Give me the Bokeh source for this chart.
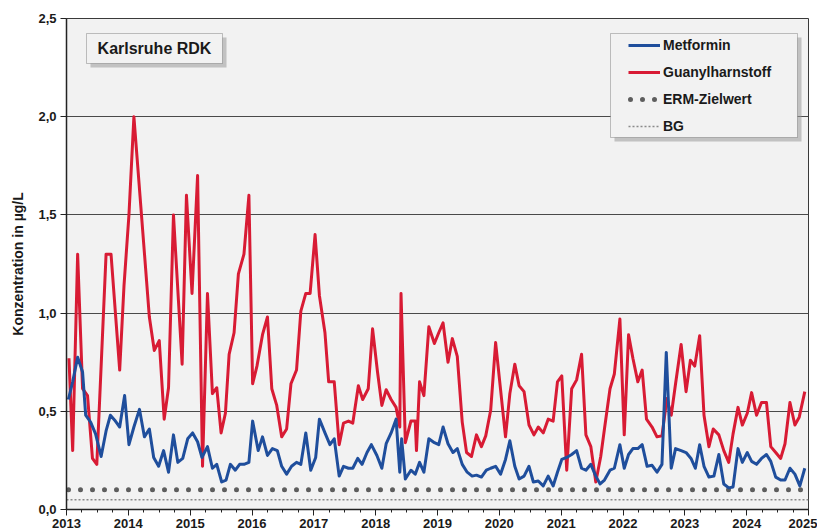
from bokeh.plotting import figure
from bokeh.models import (FixedTicker, CustomJSTickFormatter, Range1d, BoxAnnotation,
                          Label, Legend, LegendItem)
from bokeh.embed import file_html
from bokeh.resources import INLINE

# ---------------- data (decimal years, µg/L) ----------------
metformin_t = [2013.03, 2013.10, 2013.18, 2013.26, 2013.31, 2013.39, 2013.47, 2013.56, 2013.64, 2013.71,
               2013.78, 2013.86, 2013.94, 2014.01, 2014.09, 2014.18, 2014.26, 2014.34, 2014.41, 2014.49,
               2014.57, 2014.65, 2014.73, 2014.80, 2014.88, 2014.96, 2015.04, 2015.12, 2015.19, 2015.28,
               2015.36, 2015.43, 2015.51, 2015.58, 2015.65, 2015.73, 2015.80, 2015.87, 2015.95, 2016.01,
               2016.10, 2016.17, 2016.25, 2016.33, 2016.41, 2016.48, 2016.56, 2016.64, 2016.72, 2016.79,
               2016.87, 2016.95, 2017.03, 2017.09, 2017.18, 2017.26, 2017.33, 2017.41, 2017.48, 2017.56,
               2017.63, 2017.71, 2017.78, 2017.86, 2017.93, 2018.02, 2018.10, 2018.17, 2018.25, 2018.33,
               2018.39, 2018.42, 2018.48, 2018.57, 2018.64, 2018.71, 2018.78, 2018.86, 2018.95, 2019.02,
               2019.09, 2019.17, 2019.25, 2019.32, 2019.40, 2019.48, 2019.56, 2019.63, 2019.71, 2019.79,
               2019.86, 2019.94, 2020.02, 2020.10, 2020.17, 2020.25, 2020.32, 2020.40, 2020.48, 2020.55,
               2020.63, 2020.71, 2020.79, 2020.87, 2020.94, 2021.01, 2021.09, 2021.17, 2021.25, 2021.33,
               2021.40, 2021.48, 2021.56, 2021.63, 2021.70, 2021.79, 2021.86, 2021.95, 2022.02, 2022.09,
               2022.16, 2022.24, 2022.31, 2022.39, 2022.47, 2022.55, 2022.63, 2022.70, 2022.78, 2022.85,
               2022.94, 2023.02, 2023.10, 2023.17, 2023.24, 2023.31, 2023.39, 2023.47, 2023.55, 2023.63,
               2023.71, 2023.78, 2023.86, 2023.93, 2024.01, 2024.08, 2024.16, 2024.24, 2024.32, 2024.39,
               2024.47, 2024.55, 2024.62, 2024.70, 2024.78, 2024.86, 2024.94]
metformin_v = [0.56, 0.65, 0.775, 0.70, 0.48, 0.445, 0.385, 0.27, 0.40, 0.48,
               0.455, 0.42, 0.58, 0.33, 0.42, 0.51, 0.37, 0.41, 0.265, 0.22,
               0.30, 0.19, 0.38, 0.24, 0.26, 0.36, 0.39, 0.345, 0.265, 0.32,
               0.21, 0.23, 0.14, 0.15, 0.23, 0.20, 0.23, 0.23, 0.24, 0.45,
               0.30, 0.37, 0.275, 0.31, 0.30, 0.22, 0.18, 0.22, 0.24, 0.23,
               0.39, 0.20, 0.265, 0.46, 0.39, 0.33, 0.36, 0.17, 0.22, 0.21,
               0.21, 0.26, 0.23, 0.29, 0.33, 0.275, 0.21, 0.335, 0.39, 0.46,
               0.19, 0.36, 0.155, 0.20, 0.18, 0.24, 0.19, 0.36, 0.34, 0.33,
               0.42, 0.335, 0.29, 0.31, 0.23, 0.19, 0.17, 0.175, 0.165, 0.20,
               0.21, 0.22, 0.18, 0.255, 0.35, 0.22, 0.155, 0.17, 0.22, 0.14,
               0.145, 0.12, 0.17, 0.12, 0.19, 0.255, 0.265, 0.28, 0.30, 0.21,
               0.20, 0.23, 0.17, 0.13, 0.15, 0.20, 0.21, 0.33, 0.21, 0.28,
               0.31, 0.31, 0.33, 0.22, 0.225, 0.19, 0.23, 0.80, 0.21, 0.31,
               0.30, 0.29, 0.26, 0.21, 0.33, 0.22, 0.165, 0.17, 0.28, 0.13,
               0.11, 0.115, 0.31, 0.24, 0.29, 0.245, 0.23, 0.26, 0.28, 0.245,
               0.165, 0.15, 0.15, 0.21, 0.18, 0.12, 0.21]

guanyl_t = [2013.04, 2013.10, 2013.18, 2013.26, 2013.34, 2013.42, 2013.49, 2013.64, 2013.72, 2013.86,
            2013.93, 2014.01, 2014.09, 2014.34, 2014.42, 2014.50, 2014.58, 2014.65, 2014.73, 2014.87,
            2014.94, 2015.03, 2015.12, 2015.20, 2015.28, 2015.36, 2015.43, 2015.50, 2015.57, 2015.63,
            2015.71, 2015.78, 2015.87, 2015.95, 2016.01, 2016.08, 2016.17, 2016.25, 2016.32, 2016.40,
            2016.48, 2016.56, 2016.63, 2016.72, 2016.79, 2016.87, 2016.94, 2017.02, 2017.09, 2017.18,
            2017.24, 2017.33, 2017.41, 2017.48, 2017.56, 2017.63, 2017.72, 2017.79, 2017.88, 2017.95,
            2018.03, 2018.10, 2018.17, 2018.25, 2018.33, 2018.39, 2018.41, 2018.48, 2018.57, 2018.64,
            2018.66, 2018.71, 2018.78, 2018.86, 2018.95, 2019.02, 2019.09, 2019.17, 2019.24, 2019.32,
            2019.40, 2019.47, 2019.55, 2019.63, 2019.71, 2019.78, 2019.86, 2019.94, 2020.02, 2020.10,
            2020.17, 2020.25, 2020.32, 2020.40, 2020.48, 2020.56, 2020.63, 2020.71, 2020.79, 2020.87,
            2020.94, 2021.01, 2021.09, 2021.17, 2021.25, 2021.33, 2021.40, 2021.48, 2021.56, 2021.64,
            2021.70, 2021.79, 2021.86, 2021.95, 2022.02, 2022.09, 2022.16, 2022.24, 2022.31, 2022.38,
            2022.47, 2022.55, 2022.63, 2022.71, 2022.78, 2022.85, 2022.94, 2023.02, 2023.09, 2023.16,
            2023.24, 2023.31, 2023.39, 2023.46, 2023.55, 2023.63, 2023.71, 2023.78, 2023.86, 2023.93,
            2024.01, 2024.08, 2024.16, 2024.24, 2024.32, 2024.39, 2024.47, 2024.55, 2024.62, 2024.70,
            2024.78, 2024.85, 2024.94]
guanyl_v = [0.77, 0.30, 1.30, 0.615, 0.58, 0.26, 0.23, 1.30, 1.30, 0.71,
            1.14, 1.50, 2.00, 0.98, 0.81, 0.86, 0.46, 0.62, 1.50, 0.74,
            1.60, 1.10, 1.70, 0.22, 1.10, 0.59, 0.62, 0.39, 0.49, 0.79,
            0.90, 1.20, 1.30, 1.60, 0.64, 0.73, 0.89, 0.98, 0.615, 0.53,
            0.37, 0.41, 0.64, 0.71, 1.01, 1.10, 1.10, 1.40, 1.09, 0.90,
            0.65, 0.65, 0.33, 0.44, 0.45, 0.44, 0.63, 0.56, 0.615, 0.92,
            0.70, 0.53, 0.61, 0.56, 0.52, 0.42, 1.10, 0.34, 0.45, 0.45,
            0.30, 0.65, 0.58, 0.93, 0.845, 0.90, 0.95, 0.75, 0.87, 0.78,
            0.445, 0.29, 0.27, 0.38, 0.32, 0.375, 0.505, 0.85, 0.61, 0.37,
            0.59, 0.74, 0.63, 0.60, 0.43, 0.38, 0.42, 0.39, 0.46, 0.45,
            0.65, 0.68, 0.20, 0.615, 0.66, 0.79, 0.38, 0.32, 0.14, 0.27,
            0.41, 0.615, 0.69, 0.97, 0.38, 0.89, 0.77, 0.65, 0.71, 0.46,
            0.42, 0.37, 0.375, 0.565, 0.48, 0.64, 0.84, 0.60, 0.76, 0.73,
            0.885, 0.48, 0.32, 0.41, 0.38, 0.30, 0.24, 0.385, 0.52, 0.43,
            0.49, 0.595, 0.48, 0.545, 0.545, 0.32, 0.29, 0.26, 0.335, 0.545,
            0.43, 0.47, 0.60]

erm_value = 0.1   # ERM-Zielwert
bg_value = 0.05   # BG
year_ticks = list(range(2013, 2026))
y_ticks = [0.0, 0.5, 1.0, 1.5, 2.0, 2.5]
station = "Karlsruhe RDK"
y_label = "Konzentration in µg/L"

FONT = "Liberation Sans"
BLUE = "#1f4e9c"
RED = "#d81b34"
BG_PANEL = "#f2f2f2"

x0, x1 = year_ticks[0], year_ticks[-1]

p = figure(width=817, height=530, output_backend="svg", toolbar_location=None,
           x_range=Range1d(x0, x1), y_range=Range1d(y_ticks[0], y_ticks[-1]),
           min_border_left=66, min_border_right=9, min_border_top=18, min_border_bottom=21,
           background_fill_color=BG_PANEL, border_fill_color="white",
           outline_line_color="#3a3a3a", outline_line_width=1)

# grid
p.xgrid.visible = False
p.ygrid.grid_line_color = "#4a4a4a"
p.ygrid.grid_line_width = 1

# axes
quarters = [x0 + q / 4 for q in range((x1 - x0) * 4 + 1)]
p.xaxis.ticker = FixedTicker(ticks=year_ticks, minor_ticks=quarters)
p.xaxis.formatter = CustomJSTickFormatter(code="return tick.toFixed(0);")
p.yaxis.ticker = FixedTicker(ticks=y_ticks)
p.yaxis.formatter = CustomJSTickFormatter(code="return tick.toFixed(1).replace('.', ',');")

for ax in (p.xaxis[0], p.yaxis[0]):
    ax.axis_line_color = "#222222"
    ax.axis_line_width = 1.5
    ax.major_tick_line_color = "#222222"
    ax.minor_tick_line_color = "#222222"
    ax.major_label_text_font = FONT
    ax.major_label_text_font_style = "bold"
    ax.major_label_text_font_size = "13px"
    ax.major_label_text_color = "#1a1a1a"

p.xaxis.major_tick_in = 0
p.xaxis.major_tick_out = 6
p.xaxis.minor_tick_in = 0
p.xaxis.minor_tick_out = 3
p.xaxis.major_label_standoff = 3

p.yaxis.major_tick_in = 0
p.yaxis.major_tick_out = 6
p.yaxis.minor_tick_out = 0
p.yaxis.major_label_standoff = 4
p.yaxis.axis_label = y_label
p.yaxis.axis_label_text_font = FONT
p.yaxis.axis_label_text_font_style = "bold"
p.yaxis.axis_label_text_font_size = "14px"
p.yaxis.axis_label_text_color = "#1a1a1a"
p.yaxis.axis_label_standoff = 9

# reference lines
r_bg = p.line([x0, x1], [bg_value, bg_value], line_color="#8a8a8a", line_width=1.5, line_dash="2 2")
r_erm = p.line([x0, x1], [erm_value, erm_value], line_color="#5e5e5e", line_width=5,
               line_dash="0 12", line_cap="round", line_dash_offset=10)

# series
r_gua = p.line(guanyl_t, guanyl_v, line_color=RED, line_width=3, line_join="round")
r_met = p.line(metformin_t, metformin_v, line_color=BLUE, line_width=3, line_join="round")

# ---- title box ----
px_x = (x1 - x0) / 742.0
px_y = (y_ticks[-1] - y_ticks[0]) / 491.0
tb_l, tb_r = x0 + 20 * px_x, x0 + 156 * px_x
tb_t, tb_b = y_ticks[-1] - 15 * px_y, y_ticks[-1] - 45 * px_y
p.add_layout(BoxAnnotation(left=tb_l + 4 * px_x, right=tb_r + 4 * px_x, top=tb_t - 4 * px_y, bottom=tb_b - 4 * px_y,
                           fill_color="#9a9a9a", fill_alpha=0.55, line_color=None))
p.add_layout(BoxAnnotation(left=tb_l, right=tb_r, top=tb_t, bottom=tb_b,
                           fill_color=BG_PANEL, fill_alpha=1, line_color="#3a3a3a", line_width=1))
p.add_layout(Label(x=(tb_l + tb_r) / 2, y=(tb_t + tb_b) / 2, text=station, text_align="center",
                   text_baseline="middle", text_font=FONT, text_font_style="bold",
                   text_font_size="16px", text_color="#1a1a1a"))

# ---- legend box ----
lb_l, lb_r = x0 + 544 * px_x, x0 + 731 * px_x
lb_t, lb_b = y_ticks[-1] - 15 * px_y, y_ticks[-1] - 119 * px_y
p.add_layout(BoxAnnotation(left=lb_l + 4 * px_x, right=lb_r + 4 * px_x, top=lb_t - 4 * px_y, bottom=lb_b - 4 * px_y,
                           fill_color="#9a9a9a", fill_alpha=0.55, line_color=None))
p.add_layout(BoxAnnotation(left=lb_l, right=lb_r, top=lb_t, bottom=lb_b,
                           fill_color=BG_PANEL, fill_alpha=1, line_color="#3a3a3a", line_width=1))

legend = Legend(items=[LegendItem(label="Metformin", renderers=[r_met]),
                       LegendItem(label="Guanylharnstoff", renderers=[r_gua]),
                       LegendItem(label="ERM-Zielwert", renderers=[r_erm]),
                       LegendItem(label="BG", renderers=[r_bg])],
                location=(562, 373), margin=0, padding=0, spacing=7,
                border_line_color=None, background_fill_alpha=0,
                glyph_width=32, glyph_height=20, label_height=20, label_standoff=3,
                label_text_font=FONT, label_text_font_style="bold", label_text_font_size="14px",
                label_text_color="#1a1a1a")
p.add_layout(legend)

open("out.html", "w").write(file_html(p, INLINE))
